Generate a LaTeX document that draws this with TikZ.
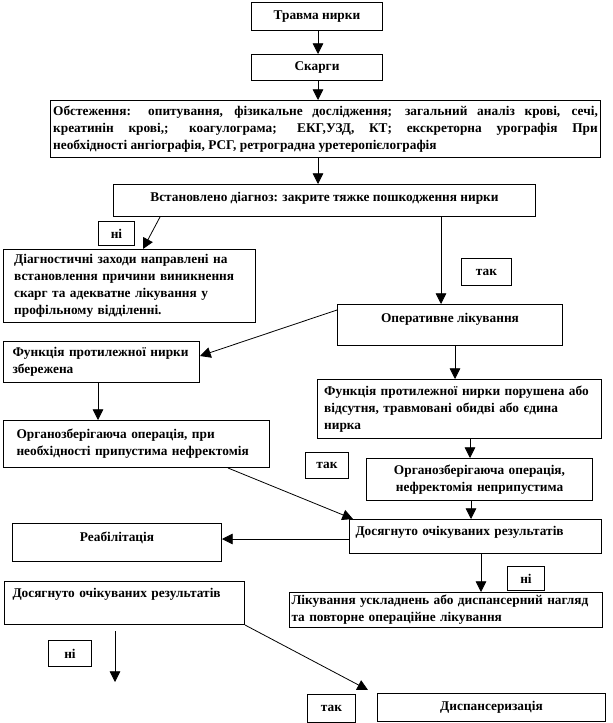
\documentclass[tikz,border=0pt]{standalone}
\usepackage{fontspec}
\setmainfont{Liberation Serif}
\usetikzlibrary{arrows.meta}

\begin{document}
\begin{tikzpicture}[
  x=0.75pt, y=-0.75pt,
  block/.style={draw, line width=0.75pt, anchor=north west, inner sep=2pt,
                font=\bfseries\fontsize{10}{12.75}\selectfont},
  tag/.style={block, inner sep=0pt, align=center},
  flow/.style={-{Triangle[length=8pt, width=8pt]}, line width=0.6pt}
]
\useasboundingbox (0,0) rectangle (612,723);

% Trauma, complaints, examination
\node[block, minimum width=98.25pt, minimum height=21pt] (trauma) at (251,2) {Травма нирки};
\node[block, minimum width=98.25pt, minimum height=19.5pt] (skargy) at (251,54) {Скарги};
\node[block, text width=408.5pt, minimum height=42.75pt, align=justify] (obst) at (50,100)
  {Обстеження: опитування, фізикальне дослідження; загальний аналіз крові, сечі,\linebreak
   креатинін крові,; коагулограма; ЕКГ,УЗД, КТ; екскреторна урографія При\linebreak
   необхідності ангіографія, РСГ, ретроградна уретеропієлографія};

% Diagnosis
\node[block, minimum width=316.5pt, text height=10.75pt, text depth=9.25pt] (diag) at (113,184)
  {Встановлено діагноз: закрите тяжке пошкодження нирки};
\node[tag, minimum width=27pt, minimum height=18pt] (no1) at (98,221) {ні};
\node[block, inner xsep=8pt, text width=173pt, minimum height=54.75pt, align=left] (search) at (3,249)
  {Діагностичні заходи направлені на\\ встановлення причини виникнення\\
   скарг та адекватне лікування у\\ профільному відділенні.};
\node[tag, minimum width=37.5pt, minimum height=20.25pt] (yes1) at (461,258) {так};

% Surgery
\node[block, minimum width=168.75pt, text height=11.5pt, text depth=15.25pt] (oper) at (337,304)
  {Оперативне лікування};
\node[block, inner xsep=6.75pt, text width=133.5pt, minimum height=30.75pt, align=left] (kept) at (3,341)
  {Функція протилежної нирки\\ збережена};
\node[block, inner xsep=5pt, text width=203pt, minimum height=44.25pt, align=left] (lost) at (317,379)
  {\mbox{Функція протилежної нирки порушена або}\\ відсутня, травмовані обидві або єдина\\ нирка};
\node[block, inner xsep=9.75pt, text width=180pt, minimum height=35.25pt, align=left] (organ1) at (3,420)
  {Органозберігаюча операція, при\\ необхідності припустима нефректомія};
\node[tag, minimum width=32.25pt, minimum height=19.5pt] (yes2) at (305,452) {так};
\node[block, text width=165.5pt, minimum height=31.5pt, align=center] (organ2) at (366,458)
  {Органозберігаюча операція,\\ нефректомія неприпустима};

% Outcome
\node[block, inner xsep=4.5pt, text width=180pt, text height=10pt, text depth=11.5pt, align=left] (result1) at (349,519)
  {Досягнуто очікуваних результатів};
\node[block, minimum width=156.75pt, text height=11.5pt, text depth=13pt] (rehab) at (12,523) {Реабілітація};
\node[tag, minimum width=27.75pt, minimum height=18pt] (no2) at (507,566) {ні};
\node[block, inner xsep=6pt, text width=168pt, text height=10pt, text depth=18.25pt, align=left] (result2) at (4,581)
  {Досягнуто очікуваних результатів};
\node[block, inner xsep=1.5pt, text width=231.75pt, minimum height=26.25pt, align=left] (compl) at (289,592)
  {Лікування ускладнень або диспансерний нагляд\\ та повторне операційне лікування};
\node[tag, minimum width=32.25pt, minimum height=19.5pt] (no3) at (48,640) {ні};
\node[tag, minimum width=36pt, minimum height=21pt] (yes3) at (307,694) {так};
\node[block, minimum width=171pt, minimum height=21pt] (disp) at (377,693) {Диспансеризація};

\coordinate (down) at (115,682);
\coordinate (up) at (368,690);

% Connectors
\draw[flow] (trauma.south -| 318,0) -- (skargy.north -| 318,0);
\draw[flow] (skargy.south -| 318,0) -- (obst.north -| 318,0);
\draw[flow] (obst.south -| 318,0) -- (diag.north -| 318,0);
\draw[flow] (diag.south -| 160,0) -- (search.north -| 143,0);
\draw[flow] (diag.south -| 441,0) -- (oper.north -| 441,0);
\draw[flow] (oper.west |- 0,310) -- (kept.east |- 0,356);
\draw[flow] (oper.south -| 455,0) -- (lost.north -| 455,0);
\draw[flow] (kept.south -| 98,0) -- (organ1.north -| 98,0);
\draw[flow] (lost.south -| 470,0) -- (organ2.north -| 470,0);
\draw[flow] (organ1.south -| 228,0) -- (result1.north -| 353,0);
\draw[flow] (organ2.south -| 471,0) -- (result1.north -| 471,0);
\draw[flow] (result1.west |- 0,539) -- (rehab.east |- 0,539);
\draw[flow] (result1.south -| 481,0) -- (compl.north -| 481,0);
\draw[flow, shorten <=4.5pt] (result2.south -| 115,0) -- (down);
\draw[flow] (result2.south east) -- (up);

\end{tikzpicture}
\end{document}
